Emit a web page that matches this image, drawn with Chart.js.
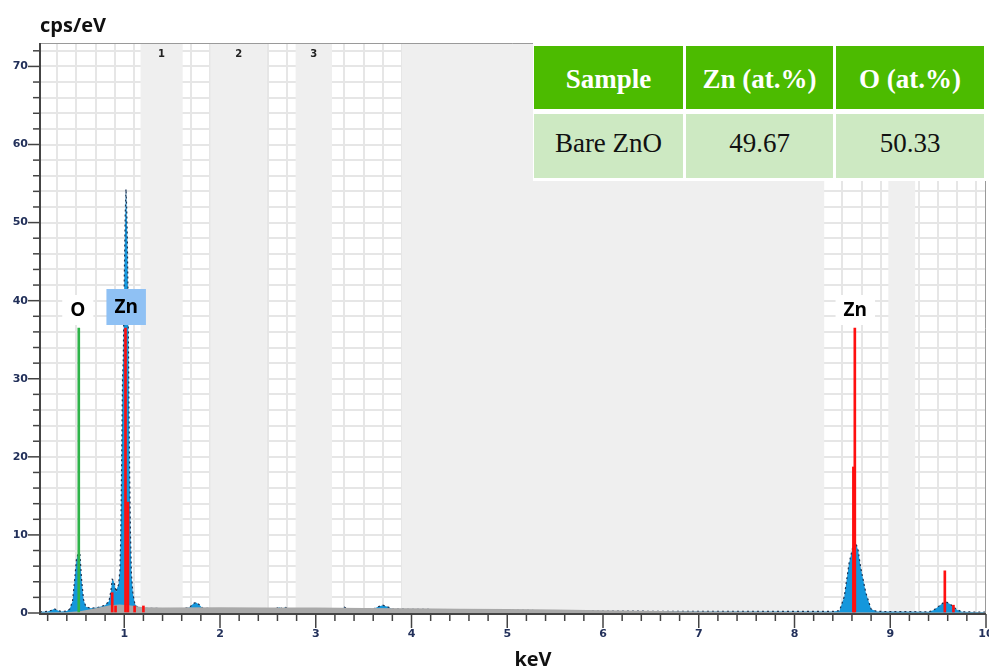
<!DOCTYPE html>
<html>
<head>
<meta charset="utf-8">
<title>EDS spectrum - Bare ZnO</title>
<script src="https://cdn.jsdelivr.net/npm/chart.js@4.4.1/dist/chart.umd.min.js"></script>
<style>
  body { margin: 0; background: #fff; }
  #wrap { position: relative; width: 989px; height: 668px; overflow: hidden; }
  #eds { position: absolute; left: 0; top: 0; }
  #comp {
    position: absolute; left: 533px; top: 43px;
    display: grid;
    grid-template-columns: 149px 147px 148px;
    grid-template-rows: 63px 64px;
    column-gap: 3px; row-gap: 5px;
    padding: 3px 4px 3px 1px;
    background: #fff;
    font-family: 'Liberation Serif', 'Times New Roman', serif;
    font-size: 27px;
  }
  #comp div { display: flex; align-items: center; justify-content: center; }
  #comp .head { background: #4cbb00; color: #fff; font-weight: bold; padding-top: 3px; }
  #comp .cell { background: #cde9c2; color: #111; padding-bottom: 6px; }
</style>
</head>
<body>
<div id="wrap">
  <canvas id="eds" width="989" height="668"></canvas>
  <div id="comp"></div>
</div>
<script>
// axis ranges and tick labels
const xMin = 0.12, xMax = 10;
const yMin = 0, yMax = 73;
const xMajorTicks = [1, 2, 3, 4, 5, 6, 7, 8, 9, 10];
const yMajorTicks = [0, 10, 20, 30, 40, 50, 60, 70];

// measured spectrum (keV / cps per eV)
const specKeV = [0.12, 0.20, 0.24, 0.27, 0.30, 0.34, 0.40, 0.43, 0.46, 0.48, 0.50, 0.515, 0.525, 0.535, 0.545, 0.555, 0.575, 0.60, 0.65, 0.72,
  0.80, 0.84, 0.86, 0.875, 0.89, 0.905, 0.915, 0.925, 0.94, 0.955, 0.962, 0.968, 0.975, 0.982, 0.99, 0.997, 1.004, 1.01, 1.018, 1.025,
  1.032, 1.04, 1.048, 1.056, 1.065, 1.075, 1.09, 1.11, 1.14, 1.20, 1.60, 1.68, 1.72, 1.75, 1.78, 1.82, 2.00, 2.58, 2.62, 2.65,
  2.68, 2.71, 3.27, 3.30, 3.33, 3.60, 3.65, 3.70, 3.75, 3.80, 4.20, 4.50, 5.00, 5.50, 6.00, 7.00, 8.00, 8.40, 8.47, 8.52,
  8.57, 8.61, 8.64, 8.665, 8.69, 8.745, 8.80, 8.86, 9.40, 9.45, 9.49, 9.54, 9.58, 9.62, 9.66, 9.70, 9.75, 10.0];
const specCps = [0.15, 0.2, 0.35, 0.55, 0.35, 0.2, 0.25, 0.5, 1.5, 4.0, 6.8, 7.5, 8.0, 7.9, 6.0, 4.2, 1.7, 0.8, 0.6, 0.7,
  1.0, 1.5, 2.8, 4.3, 4.1, 3.2, 2.7, 3.2, 3.6, 5.5, 9, 14, 22, 30, 32.5, 40, 46, 51, 54.3, 52,
  48, 40, 28, 18, 10, 5, 2.5, 1.2, 0.7, 0.6, 0.55, 0.7, 1.2, 1.35, 1.1, 0.6, 0.55, 0.55, 0.75, 0.55,
  0.75, 0.55, 0.5, 0.75, 0.5, 0.5, 0.8, 1.0, 0.8, 0.5, 0.45, 0.45, 0.35, 0.3, 0.25, 0.2, 0.2, 0.2, 0.3, 2.1,
  6.4, 8.5, 9.0, 8.0, 5.9, 2.6, 0.5, 0.2, 0.15, 0.35, 0.7, 1.2, 1.45, 1.2, 0.8, 0.4, 0.15, 0.1];

// background (bremsstrahlung) fit
const bgKeV = [0.12, 0.40, 0.55, 0.70, 0.85, 0.95, 1.05, 1.20, 1.40, 2.0, 2.5, 3.0, 3.5, 4.0, 4.5, 5.0, 5.5, 6.0, 7.0, 8.0, 9.0, 10.0];
const bgCps = [0.05, 0.1, 0.25, 0.6, 1.0, 1.1, 1.0, 0.75, 0.7, 0.75, 0.7, 0.7, 0.65, 0.6, 0.55, 0.5, 0.45, 0.35, 0.2, 0.12, 0.08, 0.05];

// element marker lines
const oLineKeV = [0.525];
const oLineCps = [36.5];
const znLineKeV = [0.874, 0.909, 1.013, 1.038, 1.108, 1.20, 8.615, 8.63, 9.57, 9.66];
const znLineCps = [2.6, 0.9, 36.5, 14.2, 0.9, 0.9, 18.7, 36.5, 5.4, 1.0];

// element labels
const elemNames = ['O', 'Zn', 'Zn'];
const elemKeV = [0.515, 1.02, 8.635];
const elemFill = ['#ffffff', '#8fc1f4', '#ffffff'];

// shaded regions of interest
const bandStart = [1.17, 1.90, 2.79, 3.90, 8.98];
const bandEnd = [1.61, 2.49, 3.17, 8.31, 9.26];
const bandNames = ['1', '2', '3', '', ''];

// composition table
const tableHead = ['Sample', 'Zn (at.%)', 'O (at.%)'];
const tableRow = ['Bare ZnO', '49.67', '50.33'];

const comp = document.getElementById('comp');
tableHead.forEach(t => {
    const d = document.createElement('div');
    d.className = 'head';
    d.textContent = t;
    comp.appendChild(d);
});
tableRow.forEach(t => {
    const d = document.createElement('div');
    d.className = 'cell';
    d.textContent = t;
    comp.appendChild(d);
});

// grid every 0.2 keV and every 2 cps
const xGrid = [];
for (let i = 1; i <= 50; i++) xGrid.push(Math.round(i * 2) / 10);
const yGrid = [];
for (let v = 0; v <= 72; v += 2) yGrid.push(v);

const tickColor = '#22305a';
const toPoints = (xs, ys) => xs.map((x, i) => ({ x: x, y: ys[i] }));

const bandsPlugin = {
    id: 'bands',
    beforeDatasetsDraw(chart) {
        const { ctx, chartArea, scales } = chart;
        ctx.save();
        bandStart.forEach((s, i) => {
            const x1 = scales.x.getPixelForValue(s);
            const x2 = scales.x.getPixelForValue(bandEnd[i]);
            ctx.fillStyle = '#efefef';
            ctx.fillRect(x1, chartArea.top, x2 - x1, chartArea.bottom - chartArea.top);
            if (bandNames[i]) {
                ctx.fillStyle = '#222';
                ctx.font = 'bold 10px "DejaVu Sans"';
                ctx.textAlign = 'center';
                ctx.textBaseline = 'middle';
                ctx.fillText(bandNames[i], (x1 + x2) / 2, chartArea.top + 11);
            }
        });
        ctx.restore();
    }
};

const labelsPlugin = {
    id: 'elemLabels',
    afterDatasetsDraw(chart) {
        const { ctx, scales } = chart;
        ctx.save();
        ctx.font = 'bold 19px "Open Sans"';
        ctx.textAlign = 'center';
        ctx.textBaseline = 'middle';
        elemNames.forEach((name, i) => {
            const cx = scales.x.getPixelForValue(elemKeV[i]);
            const bottom = scales.y.getPixelForValue(36.5) - 3;
            const w = ctx.measureText(name).width + 16;
            const h = elemFill[i] === '#ffffff' ? 30 : 36;
            ctx.fillStyle = elemFill[i];
            ctx.fillRect(cx - w / 2, bottom - h, w, h);
            ctx.fillStyle = '#000';
            ctx.fillText(name, cx, bottom - h / 2 + 1);
        });
        ctx.restore();
    }
};

const axesPlugin = {
    id: 'axesFrame',
    afterDraw(chart) {
        const { ctx, chartArea, scales } = chart;
        const { left, right, top, bottom } = chartArea;
        ctx.save();
        // frame
        ctx.strokeStyle = '#9a9a9a';
        ctx.lineWidth = 1;
        ctx.beginPath();
        ctx.moveTo(left, top + 0.5);
        ctx.lineTo(right - 0.5, top + 0.5);
        ctx.lineTo(right - 0.5, bottom);
        ctx.stroke();
        // axes
        ctx.strokeStyle = '#444';
        ctx.lineWidth = 2;
        ctx.beginPath();
        ctx.moveTo(left, top);
        ctx.lineTo(left, bottom + 1);
        ctx.lineTo(right, bottom + 1);
        ctx.stroke();
        // tick marks
        ctx.lineWidth = 1.5;
        xGrid.forEach(v => {
            const px = scales.x.getPixelForValue(v);
            const major = Math.abs(v - Math.round(v)) < 1e-6;
            ctx.beginPath();
            ctx.moveTo(px, bottom + 1);
            ctx.lineTo(px, bottom + (major ? 15 : 8));
            ctx.stroke();
        });
        yGrid.forEach(v => {
            const py = scales.y.getPixelForValue(v);
            const major = v % 10 === 0;
            ctx.beginPath();
            ctx.moveTo(left, py);
            ctx.lineTo(left - (major ? 12 : 7), py);
            ctx.stroke();
        });
        // axis titles
        ctx.fillStyle = '#111';
        ctx.font = 'bold 20px "Open Sans"';
        ctx.textBaseline = 'alphabetic';
        ctx.textAlign = 'left';
        ctx.fillText('cps/eV', 40, 32);
        ctx.textAlign = 'center';
        ctx.fillText('keV', 533, 666);
        ctx.restore();
    }
};

const ctx = document.getElementById('eds').getContext('2d');
new Chart(ctx, {
    type: 'line',
    data: {
        datasets: [
            {
                type: 'bar',
                label: 'O',
                data: toPoints(oLineKeV, oLineCps),
                backgroundColor: '#2fb34a',
                barThickness: 2,
                grouped: false,
                order: 0
            },
            {
                type: 'bar',
                label: 'Zn',
                data: toPoints(znLineKeV, znLineCps),
                backgroundColor: '#ff1010',
                barThickness: 2,
                grouped: false,
                order: 0
            },
            {
                label: 'Background',
                data: toPoints(bgKeV, bgCps),
                fill: 'origin',
                backgroundColor: '#a9a9a9',
                borderWidth: 0,
                pointRadius: 0,
                tension: 0,
                order: 1
            },
            {
                label: 'Spectrum',
                data: toPoints(specKeV, specCps),
                fill: 'origin',
                backgroundColor: '#1597dc',
                borderColor: '#1d3150',
                borderWidth: 1.2,
                borderDash: [2, 3],
                pointRadius: 0,
                tension: 0,
                order: 2
            }
        ]
    },
    options: {
        responsive: false,
        animation: false,
        layout: { padding: { top: 43, right: 3, left: 0, bottom: 0 } },
        plugins: {
            legend: { display: false },
            tooltip: { enabled: false }
        },
        scales: {
            x: {
                type: 'linear',
                min: xMin,
                max: xMax,
                offset: false,
                afterBuildTicks: s => { s.ticks = xGrid.map(v => ({ value: v })); },
                afterFit: s => { s.height = 55; s.paddingLeft = 0; s.paddingRight = 0; },
                grid: { color: '#e6e6e6', lineWidth: 2, drawTicks: false },
                border: { display: false },
                ticks: {
                    autoSkip: false,
                    maxRotation: 0,
                    padding: 15,
                    color: tickColor,
                    font: { family: 'DejaVu Sans', size: 11, weight: 'bold' },
                    callback: v => xMajorTicks.includes(Math.round(v * 10) / 10) ? String(Math.round(v)) : ''
                }
            },
            y: {
                min: yMin,
                max: yMax,
                afterBuildTicks: s => { s.ticks = yGrid.map(v => ({ value: v })); },
                afterFit: s => { s.width = 40; s.paddingTop = 0; s.paddingBottom = 0; },
                grid: { color: '#e6e6e6', lineWidth: 2, drawTicks: false },
                border: { display: false },
                ticks: {
                    autoSkip: false,
                    padding: 12,
                    color: tickColor,
                    font: { family: 'DejaVu Sans', size: 11, weight: 'bold' },
                    callback: v => yMajorTicks.includes(v) ? String(v) : ''
                }
            }
        }
    },
    plugins: [bandsPlugin, labelsPlugin, axesPlugin]
});
</script>
</body>
</html>
